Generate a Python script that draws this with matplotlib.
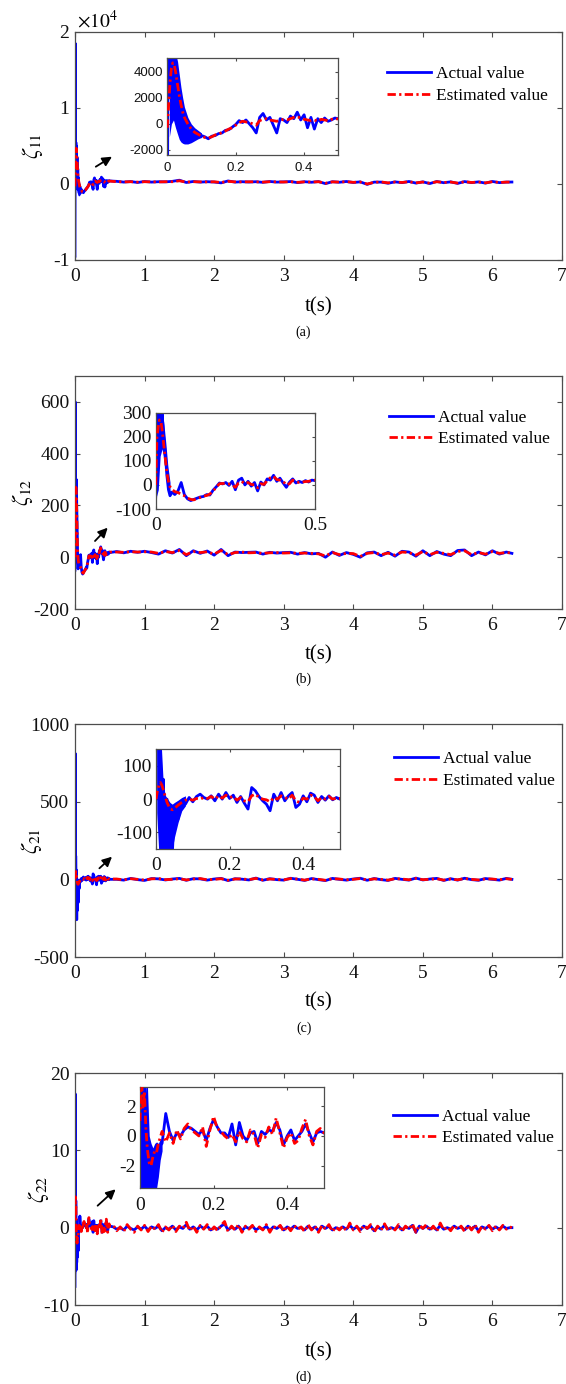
import matplotlib.pyplot as plt
import numpy as np
from matplotlib.lines import Line2D
from matplotlib.ticker import FuncFormatter

plt.rcParams['font.family'] = 'Liberation Serif'
plt.rcParams['mathtext.fontset'] = 'stix'
plt.rcParams['axes.unicode_minus'] = False

W, H = 566, 1384

# time grid of the first 0.5 s (denser at the start) and of the long tail
t_early = np.array([0, 0.004, 0.008, 0.012, 0.016, 0.02, 0.025, 0.03, 0.035, 0.04, 0.045]
                   + [round(0.05 + 0.01 * i, 2) for i in range(46)])
t_tail = np.append(np.round(np.arange(0.6, 6.21, 0.1), 1), 6.28)
t_tail_d = np.append(np.round(np.arange(0.55, 6.26, 0.05), 2), 6.28)

# ---- zeta_11 ----
a_act_early = [-9500, 18500, 2000, 5500, 3000, 5000, 1500, 3500, 500, 2000, -800,
               800, -1200, -300, -1100, -700, -900, -1000, -1150, -950, -900,
               -750, -700, -500, -450, -250, -50, 250, 100, 300, 0,
               -300, -700, 500, 800, 300, 500, -100, -700, 400, 300,
               100, 600, 400, 900, 300, 700, -300, 500, -400, 400,
               100, 450, 200, 300, 450, 400]
a_est_early = [-300, 1500, 3200, 4300, 4700, 4600, 3900, 3000, 2200, 1500, 900,
               500, 0, -400, -650, -800, -950, -1050, -1080, -1000, -850,
               -800, -650, -550, -400, -300, -100, 100, 200, 150, 100,
               0, -100, 250, 350, 400, 300, 250, 200, 280, 350,
               300, 400, 500, 550, 450, 350, 300, 250, 300, 200,
               350, 300, 250, 350, 400, 380]
a_band_t = [0.006, 0.012, 0.018, 0.024, 0.03, 0.035, 0.04, 0.045, 0.05, 0.06, 0.07, 0.08, 0.09, 0.10]
a_band_hi = [5500, 5500, 5500, 5500, 4800, 3800, 2800, 2000, 1300, 500, 0, -300, -500, -700]
a_band_lo = [-1000, 0, 300, -300, -800, -1200, -1400, -1500, -1550, -1550, -1450, -1300, -1150, -1050]
a_act_tail = [350, 250, 320, 200, 330, 250, 300, 280, 350, 500,
              200, 330, 250, 300, 260, 150, 400, 250, 300, 260,
              300, 220, 330, 250, 280, 320, 180, 300, 230, 320,
              50, 300, 230, 330, 200, 280, -50, 250, 250, 100,
              280, 180, 330, 120, 280, 60, 330, 170, 280, 80,
              320, 180, 280, 120, 330, 180, 250, 260]
a_est_tail = [300, 280, 300, 250, 300, 280, 270, 300, 300, 420,
              250, 300, 280, 270, 290, 200, 350, 280, 270, 290,
              280, 250, 300, 270, 260, 300, 220, 280, 250, 300,
              100, 280, 250, 300, 220, 260, 0, 220, 270, 150,
              260, 200, 300, 150, 260, 100, 300, 200, 260, 120,
              300, 200, 260, 150, 300, 200, 250, 250]

# ---- zeta_12 ----
b_act_early = [-50, 600, 150, 300, 170, 300, 200, 130, 40, -20, -45,
               -30, -40, -25, 10, -40, -58, -65, -60, -55, -50,
               -48, -40, -42, -22, -8, 8, 4, 10, -2, 15,
               -20, 20, 28, 0, 15, -5, 10, -25, 12, 0,
               25, 20, 40, 15, 28, 8, -10, 12, 25, 8,
               15, 10, 18, 12, 20, 18]
b_est_early = [0, 200, 240, 270, 265, 230, 170, 110, 50, 15, -8,
               -18, -28, -32, -38, -45, -55, -60, -62, -56, -52,
               -46, -44, -38, -25, -10, 5, 6, 5, 4, 0,
               -10, 8, 14, 5, 10, 2, 0, -12, 5, 2,
               18, 30, 36, 22, 20, 15, 0, 5, 20, 15,
               10, 12, 14, 15, 18, 20]
b_band_t = [0.002, 0.008, 0.014, 0.02, 0.026, 0.032, 0.038, 0.045]
b_band_hi = [320, 320, 320, 320, 250, 170, 80, 10]
b_band_lo = [-50, -20, 120, 150, 100, 40, -20, -45]
b_act_tail = [22, 17, 23, 19, 23, 18, 12, 25, 16, 30,
              6, 25, 15, 24, 8, 30, 6, 20, 18, 19,
              20, 12, 19, 16, 18, 19, 12, 18, 13, 15,
              0, 20, 7, 18, 11, 0, 17, 20, 6, 19,
              4, 23, 20, 4, 25, 6, 22, 12, 6, 26,
              28, 6, 20, 9, 25, 12, 20, 15]
b_est_tail = [20, 19, 21, 20, 21, 20, 15, 22, 18, 26,
              10, 22, 18, 21, 12, 26, 10, 18, 20, 17,
              18, 15, 17, 18, 16, 17, 15, 16, 15, 13,
              5, 18, 10, 15, 14, 3, 15, 18, 10, 16,
              8, 20, 18, 8, 22, 10, 19, 15, 10, 22,
              25, 10, 18, 12, 22, 15, 18, 16]

# ---- zeta_21 ----
c_act_early = [0, 810, 150, 150, -100, 60, -260, 0, -200, -20, -150,
               -30, -60, -5, -15, 5, -8, 8, 15, 5, 0,
               10, -5, 15, 0, 20, 2, 12, -10, 8, -12,
               -30, 35, 25, 8, -5, -15, -35, 15, -5, 20,
               -5, 10, 20, -25, -15, 10, -8, 18, 12, -10,
               8, -3, 10, -2, 5, 0]
c_est_early = [0, 25, 42, 50, 42, 28, 8, -10, -22, -30, -32,
               -28, -18, -10, -3, 0, -3, 2, 0, 5, 2,
               8, 0, 10, 3, 12, 5, 8, -3, 5, -5,
               -8, 10, 15, 5, 0, -2, -8, 5, 0, 10,
               5, 0, 12, -5, -10, 3, 0, 12, 8, -5,
               5, 0, 8, 0, 3, 2]
c_band_t = [0.002, 0.008, 0.014, 0.02, 0.026, 0.032, 0.038, 0.044, 0.05, 0.06, 0.07, 0.08]
c_band_hi = [170, 170, 170, 40, 10, 0, -10, -15, -10, -3, 5, 10]
c_band_lo = [-40, -170, -170, -170, -170, -170, -170, -150, -115, -70, -35, -20]
c_act_tail = [0, -5, 6, -2, -7, 5, 3, -4, 2, 6,
              -6, 4, 3, -5, 2, 6, -8, 4, 1, -4,
              8, -6, 4, -2, -5, 7, 0, -7, 5, -2,
              -8, 6, 0, -5, 2, 7, -6, 5, -2, -7,
              6, 0, -5, 8, -4, 2, 6, -7, 4, -5,
              7, -2, -6, 5, 0, -5, 6, 0]
c_est_tail = [2, -3, 4, 0, -5, 3, 5, -2, 0, 4,
              -4, 2, 5, -3, 0, 4, -6, 2, 3, -2,
              6, -4, 2, 0, -3, 5, 2, -5, 3, 0,
              -6, 4, 2, -3, 0, 5, -4, 3, 0, -5,
              4, 2, -3, 6, -2, 0, 4, -5, 2, -3,
              5, 0, -4, 3, 2, -3, 4, 0]

# ---- zeta_22 (tail read at 0.05 s, it is much noisier) ----
d_act_early = [-7.6, 17.3, -3.5, 3.5, -5.5, 1.0, -4.5, -1.5, -3.8, -1.2, -3.0,
               -0.8, -0.5, 1.5, 0.3, -0.3, 0.2, 0.0, 0.4, 0.6, 0.5,
               0.3, 0.1, 0.4, -0.3, 0.5, 1.1, 0.6, 0.2, 0.2, -0.1,
               0.8, -0.6, 0.9, 0.0, -0.3, 0.2, 0.3, -0.5, 0.3, 0.1,
               0.4, 0.3, 0.9, 0.4, -0.6, 0.0, 0.4, -0.3, 0.0, 0.3,
               0.8, 0.2, -0.4, 0.2, 0.3, 0.2]
d_est_early = [1.0, 4.0, 1.8, 3.0, 0.5, -0.9, -1.8, -2.0, -1.4, -1.0, -1.1,
               -0.5, 0.3, -0.4, 0.2, -0.5, 0.4, -0.2, 0.5, 0.8, 0.4,
               0.2, 0.0, 0.6, -0.7, 0.4, 1.3, 0.5, 0.3, 0.0, -0.2,
               0.1, -0.4, 0.3, -0.2, -0.4, 0.4, 0.1, -0.8, 0.1, -0.1,
               0.6, 0.1, 1.2, 0.2, -0.8, -0.1, 0.2, -0.5, -0.3, 0.5,
               1.1, 0.0, -0.6, 0.3, 0.5, 0.2]
d_band_t = [0.002, 0.007, 0.012, 0.016, 0.02, 0.025, 0.03, 0.035, 0.04, 0.045, 0.05, 0.055, 0.06]
d_band_hi = [3.5, 3.5, 1.0, 3.5, 3.5, 0.0, -0.5, -0.8, -0.5, -0.4, -0.5, -0.2, -0.2]
d_band_lo = [-7.5, -5.0, -1.0, -6.0, -5.5, -5.0, -4.5, -4.0, -3.8, -3.5, -2.7, -1.6, -1.0]
d_act_tail = [0.1, -0.2, 0.0, -0.3, 0.2, -0.1, -0.3, 0.1, -0.2, 0.2,
              -0.3, 0.1, -0.1, 0.2, -0.4, 0.0, -0.2, 0.2, -0.3, 0.1,
              -0.1, 0.4, -0.2, 0.1, -0.3, 0.2, -0.1, 0.2, -0.3, 0.0,
              -0.2, 0.2, 0.5, -0.3, 0.1, -0.2, 0.2, -0.4, 0.1, -0.1,
              0.2, -0.3, 0.0, -0.2, 0.2, -0.4, 0.1, -0.1, 0.2, -0.3,
              0.1, -0.2, 0.2, -0.1, 0.0, -0.3, 0.2, -0.2, 0.1, -0.4,
              0.2, -0.1, 0.2, -0.3, 0.0, -0.2, 0.1, -0.2, 0.3, -0.2,
              0.1, -0.3, 0.2, -0.1, 0.2, -0.4, 0.1, -0.2, 0.3, -0.2,
              0.0, -0.2, 0.2, -0.3, 0.1, -0.1, 0.3, -0.6, 0.2, -0.1,
              0.2, -0.2, 0.1, -0.3, 0.3, -0.2, 0.0, -0.2, 0.2, -0.1,
              0.1, -0.3, 0.2, -0.2, 0.2, -0.4, 0.1, -0.1, 0.2, -0.2,
              0.1, -0.2, 0.2, -0.1, 0.0, 0.0]
d_est_tail = [0.3, -0.4, 0.1, -0.5, 0.4, -0.2, -0.6, 0.2, -0.3, 0.3,
              -0.5, 0.2, -0.2, 0.4, -0.6, 0.1, -0.3, 0.3, -0.5, 0.2,
              -0.1, 0.7, -0.4, 0.2, -0.6, 0.3, -0.2, 0.4, -0.5, 0.1,
              -0.4, 0.3, 0.8, -0.5, 0.2, -0.3, 0.4, -0.6, 0.2, -0.2,
              0.3, -0.5, 0.1, -0.3, 0.4, -0.6, 0.2, -0.1, 0.3, -0.5,
              0.2, -0.4, 0.3, -0.2, 0.1, -0.5, 0.4, -0.3, 0.2, -0.6,
              0.3, -0.2, 0.4, -0.5, 0.1, -0.3, 0.2, -0.4, 0.6, -0.3,
              0.2, -0.5, 0.3, -0.1, 0.4, -0.6, 0.2, -0.3, 0.5, -0.4,
              0.1, -0.3, 0.4, -0.5, 0.2, -0.2, 0.5, -0.6, 0.3, -0.1,
              0.4, -0.4, 0.2, -0.5, 0.6, -0.3, 0.1, -0.4, 0.3, -0.2,
              0.2, -0.5, 0.3, -0.3, 0.4, -0.6, 0.2, -0.2, 0.3, -0.4,
              0.2, -0.3, 0.3, -0.2, 0.1, 0.0]

BLUE = '#0000ff'
RED = '#ff0000'
DASHDOT = (0, (3, 1.2, 0.8, 1.2))
EDGE = '0.3'

fig = plt.figure(figsize=(W / 100, H / 100), dpi=100)


def px_axes(x0, y0, x1, y1):
    return fig.add_axes([x0 / W, 1 - y1 / H, (x1 - x0) / W, (y1 - y0) / H])


def fxy(x, y):
    return (x / W, 1 - y / H)


def style(ax, size, length, pad_x, pad_y):
    for s in ax.spines.values():
        s.set_color(EDGE)
        s.set_linewidth(0.9)
    ax.tick_params(direction='in', top=True, right=True, length=length, width=0.8,
                   color=EDGE, labelsize=size, labelcolor='#111111')
    ax.tick_params(axis='x', pad=pad_x)
    ax.tick_params(axis='y', pad=pad_y)
    ax.xaxis.set_major_formatter(FuncFormatter(lambda v, p: '%g' % round(v, 3)))


def draw(ax, act_e, est_e, band_t, band_hi, band_lo, tail_t, act_t, est_t):
    t = np.concatenate([t_early, tail_t])
    ax.plot(t, np.concatenate([act_e, act_t]), color=BLUE, lw=2.0, zorder=2)
    ax.fill_between(band_t, band_lo, band_hi, color=BLUE, lw=0, zorder=2)
    ax.plot(t, np.concatenate([est_e, est_t]), color=RED, lw=2.0, ls=DASHDOT, zorder=3)


panels = [
    dict(main=(75, 32, 562, 260), ins=(167.3, 57.7, 338.3, 155),
         data=(a_act_early, a_est_early, a_band_t, a_band_hi, a_band_lo, t_tail, a_act_tail, a_est_tail),
         ylim=(-1e4, 2e4), yticks=[-1e4, 0, 1e4, 2e4],
         iylim=(-2400, 5100), iyticks=[-2000, 0, 2000, 4000], ixticks=[0, 0.2, 0.4],
         label=r'$\zeta_{11}$', lab_x=32.5, xl_y=307, cap='(a)', cap_y=332,
         leg=(386.7, 85), arrow=((95.8, 166.7), (112, 156.7))),
    dict(main=(75, 376, 562, 609), ins=(155.7, 412.7, 315, 509),
         data=(b_act_early, b_est_early, b_band_t, b_band_hi, b_band_lo, t_tail, b_act_tail, b_est_tail),
         ylim=(-200, 700), yticks=[-200, 0, 200, 400, 600],
         iylim=(-100, 300), iyticks=[-100, 0, 100, 200, 300], ixticks=[0, 0.5],
         label=r'$\zeta_{12}$', lab_x=22.6, xl_y=655, cap='(b)', cap_y=679,
         leg=(388.5, 428.5), arrow=((95, 541), (107.7, 527.7))),
    dict(main=(75, 724, 562, 957), ins=(156, 749.3, 340, 849),
         data=(c_act_early, c_est_early, c_band_t, c_band_hi, c_band_lo, t_tail, c_act_tail, c_est_tail),
         ylim=(-500, 1000), yticks=[-500, 0, 500, 1000],
         iylim=(-150, 150), iyticks=[-100, 0, 100], ixticks=[0, 0.2, 0.4],
         label=r'$\zeta_{21}$', lab_x=31, xl_y=1002, cap='(c)', cap_y=1028,
         leg=(394, 770), arrow=((99.4, 868.3), (112, 856.7))),
    dict(main=(75, 1073, 562, 1305), ins=(140, 1087.3, 324, 1188.3),
         data=(d_act_early, d_est_early, d_band_t, d_band_hi, d_band_lo, t_tail_d, d_act_tail, d_est_tail),
         ylim=(-10, 20), yticks=[-10, 0, 10, 20],
         iylim=(-3.5, 3.25), iyticks=[-2, 0, 2], ixticks=[0, 0.2, 0.4],
         label=r'$\zeta_{22}$', lab_x=38.7, xl_y=1352, cap='(d)', cap_y=1377,
         leg=(393, 1127.7), arrow=((97.6, 1205.7), (115.6, 1189.3))),
]

handles = [Line2D([], [], color=BLUE, lw=2.0),
           Line2D([], [], color=RED, lw=2.0, ls=DASHDOT)]

for i, p in enumerate(panels):
    ax = px_axes(*p['main'])
    draw(ax, *p['data'])
    ax.set_xlim(0, 7)
    ax.set_xticks(range(8))
    ax.set_ylim(*p['ylim'])
    ax.set_yticks(p['yticks'])
    style(ax, 14, 3.6, 6, 4)
    if i == 0:
        ax.yaxis.set_major_formatter(FuncFormatter(lambda v, q: '%g' % (v / 1e4)))
        fig.text(*fxy(77, 21), r'$\times10^{4}$', fontsize=14, va='center', ha='left')
    else:
        ax.yaxis.set_major_formatter(FuncFormatter(lambda v, q: '%g' % v))
    x0, y0, x1, y1 = p['main']
    fig.text(*fxy(p['lab_x'], (y0 + y1) / 2), p['label'], fontsize=16,
             rotation=90, ha='center', va='center')
    fig.text(*fxy((x0 + x1) / 2, p['xl_y']), 't(s)', fontsize=15, ha='center', va='center')
    fig.text(*fxy(303.6, p['cap_y']), p['cap'], fontsize=10, ha='center', va='center')
    ax.legend(handles, ['Actual value', 'Estimated value'], loc='center left',
              bbox_to_anchor=fxy(*p['leg']), bbox_transform=fig.transFigure,
              frameon=False, fontsize=12.5, handlelength=2.55, handletextpad=0.3,
              labelspacing=0.3, borderpad=0, borderaxespad=0)
    tail, head = p['arrow']
    ax.annotate('', xy=fxy(*head), xytext=fxy(*tail), xycoords='figure fraction',
                textcoords='figure fraction',
                arrowprops=dict(arrowstyle='-|>', color='k', lw=1.3,
                                mutation_scale=14, shrinkA=0, shrinkB=0))

    ins = px_axes(*p['ins'])
    draw(ins, *p['data'])
    ins.set_xlim(0, 0.5)
    ins.set_xticks(p['ixticks'])
    ins.set_ylim(*p['iylim'])
    ins.set_yticks(p['iyticks'])
    if i == 0:
        style(ins, 9.5, 2.2, 5, 3)
        ins.tick_params(labelfontfamily='Liberation Sans')
    else:
        style(ins, 14, 2.2, 6, 3)
    ins.yaxis.set_major_formatter(FuncFormatter(lambda v, q: '%g' % v))

fig.savefig('out.png', dpi=100)
